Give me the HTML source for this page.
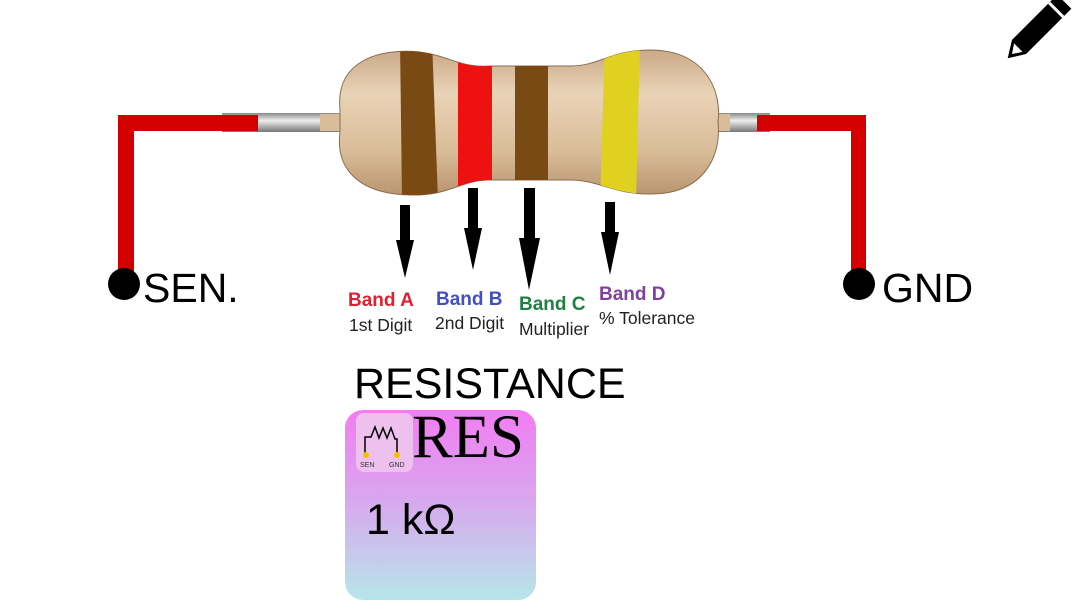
<!DOCTYPE html>
<html><head><meta charset="utf-8"><style>
body{margin:0;background:#fff;width:1072px;height:616px;overflow:hidden;position:relative;font-family:"Liberation Sans",sans-serif}
.t{position:absolute;white-space:nowrap}
</style></head><body>
<svg width="1072" height="616" style="position:absolute;left:0;top:0">
<defs>
<linearGradient id="lead" x1="0" y1="0" x2="0" y2="1"><stop offset="0" stop-color="#888"/><stop offset=".4" stop-color="#eee"/><stop offset="1" stop-color="#777"/></linearGradient>
<linearGradient id="bd" x1="0" y1="0" x2="0" y2="1"><stop offset="0" stop-color="#c9a987"/><stop offset=".3" stop-color="#e9d3b6"/><stop offset=".7" stop-color="#d9bc98"/><stop offset="1" stop-color="#b8956f"/></linearGradient>
<clipPath id="bc"><path id="body" d="M340,110 C335,60 380,48 420,52 C450,56 460,68 490,66 L570,66 C600,66 610,50 650,50 C705,50 722,90 718,122 C722,160 700,195 650,194 C612,194 600,180 570,180 L490,180 C460,180 450,196 410,195 C360,194 335,170 340,132 Z"/></clipPath>
</defs>
<rect x="222" y="113" width="120" height="19" fill="url(#lead)"/>
<rect x="700" y="113" width="70" height="19" fill="url(#lead)"/>
<rect x="320" y="114" width="30" height="17" fill="#d9bc98"/>
<rect x="700" y="114" width="30" height="17" fill="#d9bc98"/>
<use href="#body" fill="url(#bd)" stroke="#8a6d50" stroke-width="1"/>
<g clip-path="url(#bc)">
<path d="M400,40 L432,40 L438,200 L402,200 Z" fill="#7a4a14"/>
<rect x="458" y="40" width="34" height="160" fill="#ee1111"/>
<rect x="515" y="40" width="33" height="160" fill="#7a4a14"/>
<path d="M605,40 L640,40 L636,200 L600,200 Z" fill="#e0d020"/>
</g>
<path d="M118,115 H258 V131 H134 V285 H118 Z" fill="#d40000"/>
<path d="M757,115 H866 V285 H851 V131 H757 Z" fill="#d40000"/>
<circle cx="124" cy="284" r="16" fill="#000"/>
<circle cx="859" cy="284" r="16" fill="#000"/>
<g fill="#000">
<rect x="400" y="205" width="10" height="35"/><path d="M396,240 H414 L405,278 Z"/>
<rect x="468" y="188" width="10" height="50"/><path d="M464,228 H482 L473,270 Z"/>
<rect x="524" y="188" width="11" height="55"/><path d="M519,238 H540 L529,290 Z"/>
<rect x="605" y="202" width="10" height="35"/><path d="M601,232 H619 L610,275 Z"/>
</g>
<g transform="translate(1036,30) rotate(45)">
<path d="M-10,-40 H10 V24 L0,40 L-10,24 Z" fill="#000"/>
<rect x="-10" y="-30" width="20" height="3" fill="#fff"/>
<path d="M-6,25 H6 L0,34 Z" fill="#fff"/>
</g>
<defs><linearGradient id="bx" x1="0" y1="0" x2="0" y2="1"><stop offset="0" stop-color="#f27cf2"/><stop offset=".5" stop-color="#d7aaee"/><stop offset="1" stop-color="#b7e6ea"/></linearGradient></defs>
<rect x="345" y="410" width="191" height="190" rx="18" fill="url(#bx)"/>
<rect x="356" y="413" width="57" height="59" rx="8" fill="#eec0ee"/>
<path d="M365,455 V437 H371 L375,427 L379,438 L383,428 L387,438 L391,428 L395,439 H397 V455" fill="none" stroke="#000" stroke-width="1.5"/>
<circle cx="366" cy="455" r="3" fill="#f5c000"/><circle cx="397" cy="455" r="3" fill="#f5c000"/>
</svg>
<div class="t" style="left:360px;top:462px;font-size:7px;color:#333">SEN</div>
<div class="t" style="left:389px;top:462px;font-size:7px;color:#333">GND</div>
<div class="t" style="left:348px;top:290px;font-size:19px;font-weight:bold;color:#e02030">Band A</div>
<div class="t" style="left:349px;top:315px;font-size:17.5px;color:#222">1st Digit</div>
<div class="t" style="left:436px;top:289px;font-size:19px;font-weight:bold;color:#4050c0">Band B</div>
<div class="t" style="left:435px;top:313px;font-size:17.5px;color:#222">2nd Digit</div>
<div class="t" style="left:519px;top:294px;font-size:19px;font-weight:bold;color:#208040">Band C</div>
<div class="t" style="left:519px;top:319px;font-size:17.5px;color:#222">Multiplier</div>
<div class="t" style="left:599px;top:284px;font-size:19px;font-weight:bold;color:#8040a0">Band D</div>
<div class="t" style="left:599px;top:308px;font-size:17.5px;color:#222">% Tolerance</div>
<div class="t" style="left:143px;top:265px;font-size:41px">SEN.</div>
<div class="t" style="left:882px;top:265px;font-size:41px">GND</div>
<div class="t" style="left:354px;top:360px;font-size:43px">RESISTANCE</div>
<div class="t" style="left:412px;top:403px;font-size:61px;font-family:'Liberation Serif',serif">RES</div>
<div class="t" style="left:366px;top:496px;font-size:43px">1 kΩ</div>
</body></html>
